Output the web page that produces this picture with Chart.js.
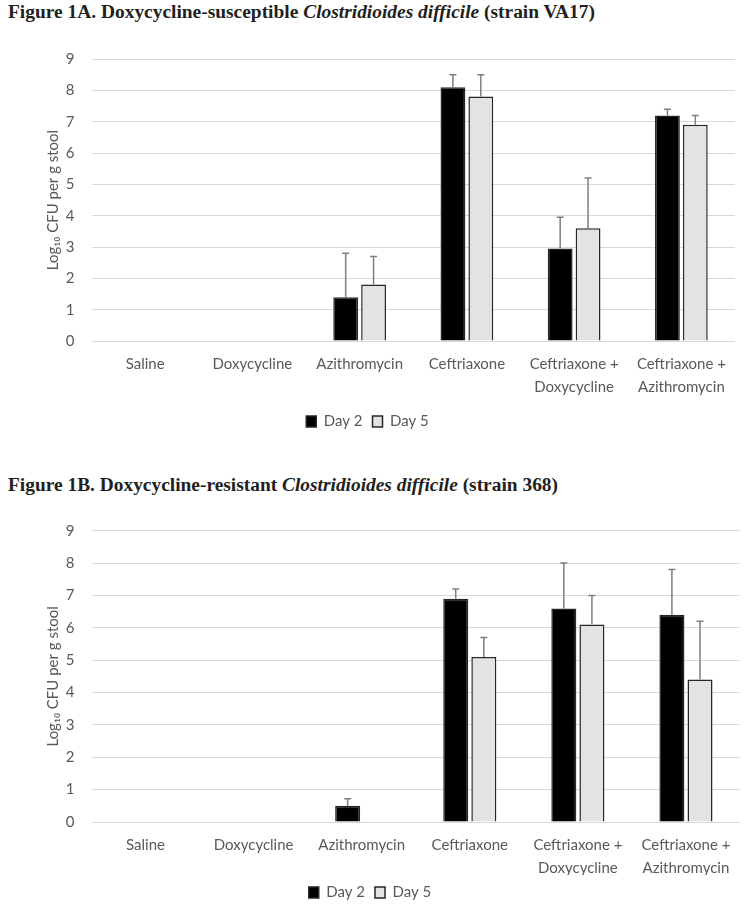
<!DOCTYPE html>
<html>
<head>
<meta charset="utf-8">
<script src="https://cdn.jsdelivr.net/npm/chart.js@4.4.1/dist/chart.umd.min.js"></script>
<style>
  body { margin: 0; background: #fff; width: 745px; height: 910px; position: relative; overflow: hidden; }
  .title { position: absolute; left: 8px; font-family: "Liberation Serif", serif; font-weight: bold; font-size: 18px; color: #231f20; white-space: nowrap; transform-origin: left center; line-height: 20px; }
  .title i { font-style: italic; }
  .box { position: absolute; left: 0; width: 745px; }
</style>
</head>
<body>
<div class="title" id="titleA" style="top:2px">Figure 1A. Doxycycline-susceptible <i>Clostridioides difficile</i> (strain VA17)</div>
<div class="box" style="top:30px;height:420px"><canvas id="chartA"></canvas></div>
<div class="title" id="titleB" style="top:475px">Figure 1B. Doxycycline-resistant <i>Clostridioides difficile</i> (strain 368)</div>
<div class="box" style="top:500px;height:410px"><canvas id="chartB"></canvas></div>
<script>
let categories = ["Saline", "Doxycycline", "Azithromycin", "Ceftriaxone", ["Ceftriaxone +", "Doxycycline"], ["Ceftriaxone +", "Azithromycin"]]
let yTicks = [0, 1, 2, 3, 4, 5, 6, 7, 8, 9]

// Figure 1A - strain VA17
let a_day2 = [0, 0, 1.4, 8.1, 2.95, 7.2]
let a_day5 = [0, 0, 1.8, 7.8, 3.6, 6.9]
let a_err2 = [0, 0, 1.4, 0.4, 1.0, 0.2]
let a_err5 = [0, 0, 0.9, 0.7, 1.6, 0.3]

// Figure 1B - strain 368
let b_day2 = [0, 0, 0.5, 6.9, 6.6, 6.4]
let b_day5 = [0, 0, 0, 5.1, 6.1, 4.4]
let b_err2 = [0, 0, 0.22, 0.3, 1.4, 1.4]
let b_err5 = [0, 0, 0, 0.6, 0.9, 1.8]

const fitTitle = (id, width) => {
    const el = document.getElementById(id)
    const w = el.getBoundingClientRect().width
    el.style.transform = "scaleX(" + (width / w) + ")"
}
fitTitle("titleA", 587)
fitTitle("titleB", 550)

const errorBars = {
    id: 'errorBars',
    afterDatasetsDraw(chart) {
        const ctx = chart.ctx
        const y = chart.scales.y
        chart.data.datasets.forEach((ds, i) => {
            const meta = chart.getDatasetMeta(i)
            meta.data.forEach((bar, j) => {
                const e = ds.errors[j]
                if (!e) return
                const y0 = y.getPixelForValue(ds.data[j])
                const y1 = y.getPixelForValue(ds.data[j] + e)
                ctx.save()
                ctx.strokeStyle = '#7f7f7f'
                ctx.lineWidth = 1.5
                ctx.beginPath()
                ctx.moveTo(bar.x, y0)
                ctx.lineTo(bar.x, y1)
                ctx.moveTo(bar.x - 3.5, y1)
                ctx.lineTo(bar.x + 3.5, y1)
                ctx.stroke()
                ctx.restore()
            })
        })
    }
}

const makeChart = (id, day2, day5, err2, err5, lay) => {
    const ctx = document.getElementById(id).getContext('2d')
    return new Chart(ctx, {
        type: 'bar',
        data: {
            labels: categories,
            datasets: [
                {
                    label: 'Day 2',
                    data: day2,
                    errors: err2,
                    backgroundColor: '#000000',
                    borderColor: '#262626',
                    borderWidth: 1.5,
                    barPercentage: 0.89,
                    categoryPercentage: 0.52
                },
                {
                    label: 'Day 5',
                    data: day5,
                    errors: err5,
                    backgroundColor: '#e3e3e3',
                    borderColor: '#262626',
                    borderWidth: 1.5,
                    barPercentage: 0.89,
                    categoryPercentage: 0.52
                }
            ]
        },
        options: {
            responsive: true,
            maintainAspectRatio: false,
            animation: false,
            layout: {
                padding: { top: lay.top, right: lay.right, bottom: lay.bottom, left: 0 }
            },
            plugins: {
                tooltip: { enabled: false },
                legend: {
                    position: 'bottom',
                    labels: {
                        boxWidth: 10,
                        boxHeight: 11,
                        padding: 10,
                        color: '#595959',
                        font: { family: 'Lato', size: 15 }
                    }
                }
            },
            scales: {
                x: {
                    grid: { display: false, drawTicks: false },
                    border: { display: false },
                    ticks: {
                        color: '#595959',
                        padding: 12,
                        maxRotation: 0,
                        autoSkip: false,
                        font: { family: 'Lato', size: 15, lineHeight: 1.5 }
                    },
                    afterFit: (scale) => { scale.height = lay.xHeight }
                },
                y: {
                    min: yTicks[0],
                    max: yTicks[yTicks.length - 1],
                    afterBuildTicks: (scale) => { scale.ticks = yTicks.map(v => ({ value: v })) },
                    grid: { color: '#d9d9d9', lineWidth: 1, drawTicks: false },
                    border: { display: false },
                    ticks: {
                        color: '#595959',
                        padding: 17,
                        font: { family: 'Lato', size: 15 }
                    },
                    title: {
                        display: true,
                        text: 'Log\u2081\u2080 CFU per g stool',
                        color: '#595959',
                        padding: { top: 44, bottom: 0 },
                        font: { family: 'Lato', size: 15 }
                    },
                    afterFit: (scale) => { scale.width = 91.5 }
                }
            }
        },
        plugins: [errorBars]
    })
}

makeChart('chartA', a_day2, a_day5, a_err2, a_err5, { top: 29, right: 10, bottom: 11, xHeight: 63 })
makeChart('chartB', b_day2, b_day5, b_err2, b_err5, { top: 30.7, right: 5, bottom: 0, xHeight: 53 })
</script>
</body>
</html>
